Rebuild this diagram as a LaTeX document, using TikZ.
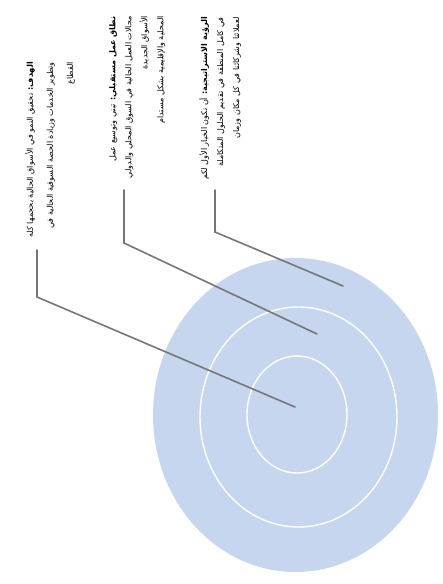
\documentclass[tikz,border=0pt]{standalone}
\usepackage{fontspec}
\newfontfamily\arabicfont[Script=Arabic]{DejaVu Sans}
\TeXXeTstate=1
\usetikzlibrary{positioning}
\definecolor{ringblue}{RGB}{198,214,238}
\definecolor{leadgray}{RGB}{118,118,118}

\begin{document}
\begin{tikzpicture}[
  x=1pt, y=-1pt,
  ring/.style={draw=white, line width=1.4pt},
  leader/.style={draw=leadgray, line width=1.6pt, line cap=round},
  note/.style={rotate=90, anchor=north east, align=right, inner sep=0pt,
               text=black},
]
\useasboundingbox (0,0) rectangle (443,584);
% target
\fill[ringblue] (295.5,415) ellipse [x radius=142.5pt, y radius=157pt];
\draw[ring] (298.5,417) ellipse [x radius=98.5pt, y radius=110pt];
\draw[ring] (297,414.5) ellipse [x radius=50pt, y radius=58.5pt];
% texts
\node[note, font=\arabicfont\fontsize{8}{20}\selectfont] (goal) at (25,62)
  {\beginR{\bfseries الهدف:} تحقيق النمو في الأسواق الحالية بحجمها كله\endR\\
   \beginR وتطوير الخدمات وزيادة الحصة السوقية الحالية في\endR\\
   \beginR القطاع\endR};
\node[note, font=\arabicfont\fontsize{8}{16}\selectfont] (scope) at (109,16)
  {\beginR{\bfseries نطاق عمل مستقبلي:} تبني وتوسيع عمل\endR\\
   \beginR مجالات العمل الحالية في السوق المحلي والدولي\endR\\
   \beginR الأسواق الجديدة\endR\\
   \beginR المحلية والإقليمية بشكل مستدام\endR};
\node[note, font=\arabicfont\fontsize{8}{16}\selectfont] (vision) at (199,17)
  {\beginR{\bfseries الرؤية الاستراتيجية:} أن نكون الخيار الأول لكم\endR\\
   \beginR في كامل المنطقة في تقديم الحلول المتكاملة\endR\\
   \beginR لعملائنا وشركائنا في كل مكان وزمان\endR};
% leader lines
\coordinate (goal-top)    at (37,250);
\coordinate (goal-knee)   at (37,297);
\coordinate (goal-tip)    at (295,407);
\coordinate (scope-top)   at (124,190);
\coordinate (scope-knee)  at (124,243);
\coordinate (scope-tip)   at (317,334);
\coordinate (vision-top)  at (215,190);
\coordinate (vision-knee) at (215,232);
\coordinate (vision-tip)  at (343,286);
\draw[leader] (goal-top) -- (goal-knee) -- (goal-tip);
\draw[leader] (scope-top) -- (scope-knee) -- (scope-tip);
\draw[leader] (vision-top) -- (vision-knee) -- (vision-tip);
\end{tikzpicture}
\end{document}
